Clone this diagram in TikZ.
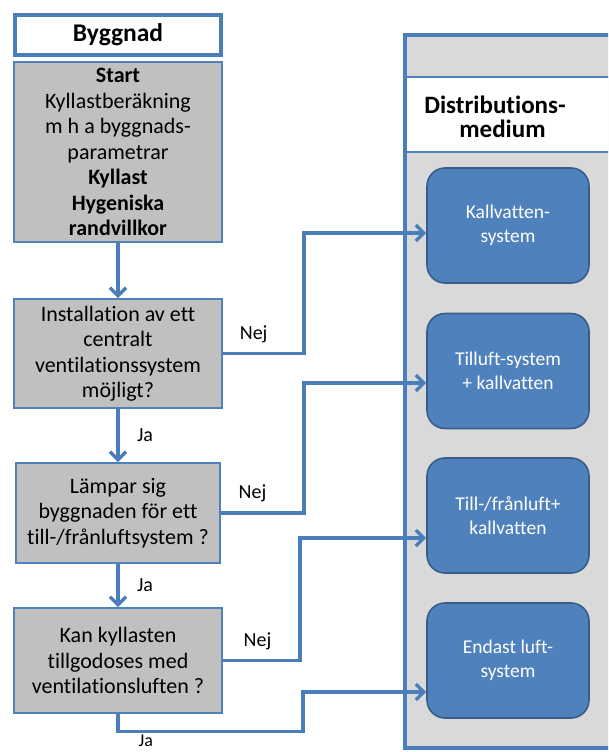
\documentclass[tikz,border=0pt]{standalone}
\usepackage{fontspec}
\setmainfont{Carlito}[Ligatures={NoCommon}]
\usetikzlibrary{arrows.meta,positioning,calc}
\definecolor{lineblue}{HTML}{4A7EBB}
\definecolor{boxblue}{HTML}{4F81BD}
\definecolor{darkblue}{HTML}{385D8A}
\definecolor{boxgray}{HTML}{C0C0C0}
\definecolor{panelgray}{HTML}{D9D9D9}

\begin{document}
\begin{tikzpicture}[
  x=1pt, y=-1pt,
  qbox/.style={draw=boxblue, line width=1.8pt, fill=boxgray, align=center, minimum width=208pt, font=\fontsize{22}{25.5}\selectfont, inner sep=1pt},
  sysbox/.style={draw=darkblue, line width=1.6pt, fill=boxblue, rounded corners=18pt, text=white, align=center, minimum width=162pt, minimum height=115pt, font=\fontsize{19.5}{23.5}\selectfont},
  arr/.style={-{Straight Barb[length=8pt, width=16pt]}, draw=lineblue, line width=3.4pt},
  lbl/.style={font=\fontsize{20}{22}\selectfont},
]
\path[use as bounding box, clip] (0,0) rectangle (608,752);

\fill[panelgray] (405,35) rectangle (612,748);
\fill[white] (405,77) rectangle (612,152);
\draw[boxblue, line width=1.4pt] (405,77) -- (612,77) (405,152) -- (612,152);
\draw[lineblue, line width=3.2pt] (612,35) -- (405,35) -- (405,748) -- (612,748);
\node[font=\fontsize{25}{24}\selectfont\bfseries, align=center] (hd) at (495,117) {Distributions-\\\hspace*{0.6em}medium};

\node[draw=lineblue, line width=3.2pt, fill=white, minimum width=206pt, minimum height=40pt, font=\fontsize{25.5}{28}\selectfont\bfseries] (bg) at (118,35) {Byggnad};
\node[qbox, minimum height=180pt] (st) at (118,152) {\textbf{Start}\\Kyllastberäkning\\m h a byggnads-\\parametrar\\\textbf{Kyllast}\\\textbf{Hygeniska}\\\textbf{randvillkor}};
\node[qbox, minimum height=109pt] (q1) at (118,353.5) {Installation av ett\\centralt\\ventilationssystem\\möjligt?};
\node[qbox, minimum width=204pt, minimum height=100pt] (q2) at (118,513) {Lämpar sig\\byggnaden för ett\\till-/frånluftsystem ?};
\node[qbox, minimum height=105pt] (q3) at (118,660.5) {Kan kyllasten\\tillgodoses med\\ventilationsluften ?};

\node[sysbox] (kv) at (508,225.5) {Kallvatten-\\system};
\node[sysbox] (tl) at (508,371) {Tilluft-system\\+ kallvatten};
\node[sysbox] (tf) at (508,515.5) {Till-/frånluft+\\kallvatten};
\node[sysbox] (en) at (508,660.5) {Endast luft-\\system};

\draw[arr] (st) -- (q1);
\draw[arr] (q1) -- node[lbl, right=14pt]{Ja} (q2);
\draw[arr] (q2) -- node[lbl, right=14pt]{Ja} (q3);
\draw[arr] (q1.east) -- node[lbl, above=6pt, pos=0.38]{Nej} ++(81,0) |- ([yshift=-7.5pt]kv.west);
\draw[arr] (q2.east) -- node[lbl, above=6pt, pos=0.38]{Nej} ++(83,0) |- ([yshift=-12pt]tl.west);
\draw[arr] (q3.east) -- node[lbl, above=6pt, pos=0.45]{Nej} ++(77,0) |- ([yshift=-22.5pt]tf.west);
\draw[arr] (q3.south) -- ++(0,17.5) -- node[lbl, font=\fontsize{18}{20}\selectfont, inner sep=0pt, below=2pt, pos=0.15]{Ja} ++(185,0) |- ([yshift=-31.5pt]en.west);
\end{tikzpicture}
\end{document}
